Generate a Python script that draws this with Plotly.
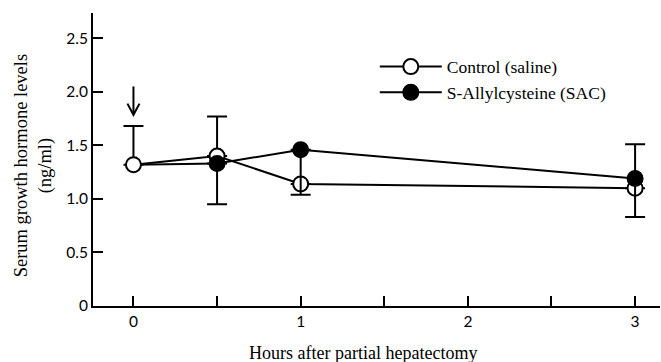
import plotly.graph_objects as go

# ---- data ----
hours = [0, 0.5, 1, 3]
control = [1.32, 1.40, 1.14, 1.10]
control_err_up = [0.36, 0.37, 0, 0]
control_err_down = [0, 0, 0, 0]
sac = [1.32, 1.33, 1.46, 1.19]
sac_err_up = [0, 0, 0, 0.32]
sac_err_down = [0, 0.38, 0.42, 0.36]

x_tickvals = [0, 0.5, 1, 1.5, 2, 2.5, 3]
x_ticktext = ["0", "", "1", "", "2", "", "3"]
y_tickvals = [0, 0.5, 1.0, 1.5, 2.0, 2.5]
y_ticktext = ["0", "0.5", "1.0", "1.5", "2.0", "2.5"]

serif = "Liberation Serif, Times New Roman, serif"
sans = "Lato, Carlito, Calibri, sans-serif"

fig = go.Figure()

# SAC connecting segment from time 0 (drawn beneath the control marker)
fig.add_trace(go.Scatter(
    x=hours[:2], y=sac[:2], mode="lines",
    line=dict(color="black", width=2), showlegend=False, hoverinfo="skip"))

# Control
fig.add_trace(go.Scatter(
    x=hours, y=control, mode="lines+markers", name="Control (saline)",
    line=dict(color="black", width=2),
    marker=dict(symbol="circle", size=15, color="white",
                line=dict(color="black", width=2)),
    error_y=dict(type="data", symmetric=False, array=control_err_up,
                 arrayminus=control_err_down, color="black",
                 thickness=2, width=10)))

# SAC (from 0.5 h on, drawn on top)
fig.add_trace(go.Scatter(
    x=hours[1:], y=sac[1:], mode="lines+markers", name="S-Allylcysteine (SAC)",
    line=dict(color="black", width=2),
    marker=dict(symbol="circle", size=15, color="black",
                line=dict(color="black", width=2)),
    error_y=dict(type="data", symmetric=False, array=sac_err_up[1:],
                 arrayminus=sac_err_down[1:], color="black",
                 thickness=2, width=10)))

# arrow marking time 0
fig.add_shape(type="line", xref="x", yref="y", x0=0, x1=0, y0=2.05, y1=1.79,
              line=dict(color="black", width=2))
fig.add_shape(type="path", xref="x", yref="y",
              path="M -0.036,1.89 L 0,1.785 L 0.036,1.89",
              line=dict(color="black", width=2))

fig.update_layout(
    width=661, height=362,
    margin=dict(l=93, r=1, t=13, b=56),
    paper_bgcolor="white", plot_bgcolor="white",
    showlegend=True,
    legend=dict(x=0.497, y=0.878, xanchor="left", yanchor="top",
                bgcolor="rgba(0,0,0,0)", borderwidth=0,
                font=dict(family=serif, size=17.5, color="black"),
                itemwidth=62, tracegroupgap=0),
    xaxis=dict(range=[-0.242, 3.149], tickvals=x_tickvals, ticktext=x_ticktext,
               ticks="inside", ticklen=10, tickwidth=2, tickcolor="black",
               showline=True, linewidth=2, linecolor="black",
               showgrid=False, zeroline=False,
               tickfont=dict(family=sans, size=15.5, color="black")),
    yaxis=dict(range=[0, 2.736], tickvals=y_tickvals, ticktext=y_ticktext,
               ticks="inside", ticklen=10, tickwidth=2, tickcolor="black",
               showline=True, linewidth=2, linecolor="black",
               showgrid=False, zeroline=False,
               tickfont=dict(family=sans, size=15.5, color="black")),
    annotations=[
        dict(text="Serum growth hormone levels<br>(ng/ml)", xref="paper", yref="paper",
             x=0, y=0.48, xanchor="center", yanchor="middle", xshift=-60,
             textangle=-90, showarrow=False,
             font=dict(family=serif, size=18.5, color="black")),
        dict(text="Hours after partial hepatectomy", xref="paper", yref="paper",
             x=0.477, y=0, xanchor="center", yanchor="middle", yshift=-47,
             showarrow=False, font=dict(family=serif, size=18, color="black")),
    ],
)

fig.write_html("out.html")
